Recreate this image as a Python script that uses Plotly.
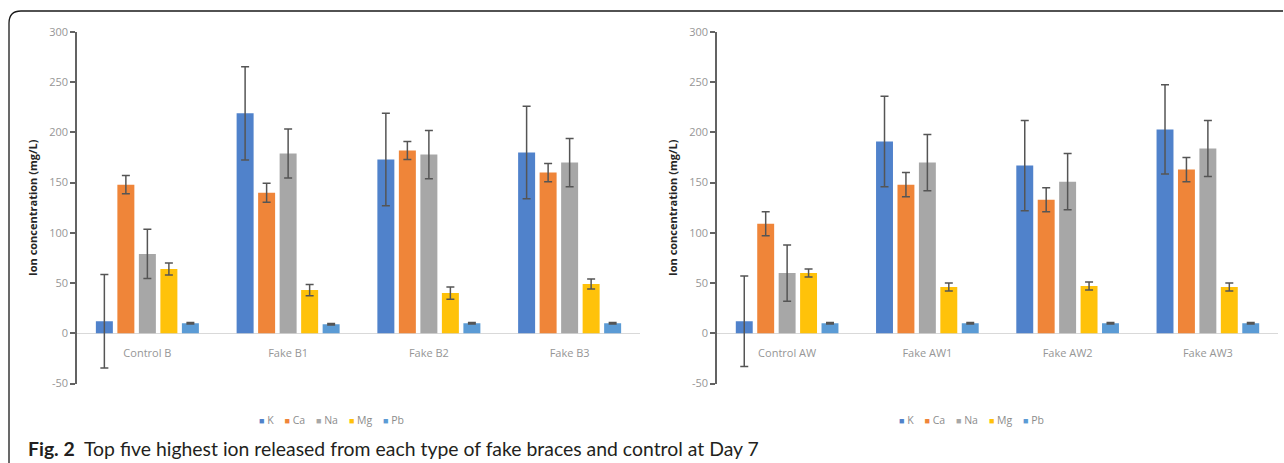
import plotly.graph_objects as go

W, H = 1284, 463

ions = ["K", "Ca", "Na", "Mg", "Pb"]
colors = ["#5082CB", "#EF8539", "#A7A7A7", "#FFC20A", "#5B9BD5"]

cats_B = ["Control B", "Fake B1", "Fake B2", "Fake B3"]
K_B = [12, 219, 173, 180]
Ca_B = [148, 140, 182, 160]
Na_B = [79, 179, 178, 170]
Mg_B = [64, 43, 40, 49]
Pb_B = [10, 9, 10, 10]
K_B_err = [46.5, 46.5, 46, 46]
Ca_B_err = [9, 9.5, 9, 9]
Na_B_err = [24.5, 24.5, 24, 24]
Mg_B_err = [6, 5.5, 6, 5]
Pb_B_err = [0.8, 0.8, 0.8, 0.8]

cats_AW = ["Control AW", "Fake AW1", "Fake AW2", "Fake AW3"]
K_AW = [12, 191, 167, 203]
Ca_AW = [109, 148, 133, 163]
Na_AW = [60, 170, 151, 184]
Mg_AW = [60, 46, 47, 46]
Pb_AW = [10, 10, 10, 10]
K_AW_err = [45, 45, 45, 44.5]
Ca_AW_err = [12, 12, 12, 12]
Na_AW_err = [28, 28, 28, 28]
Mg_AW_err = [4, 4, 4, 4]
Pb_AW_err = [0.8, 0.8, 0.8, 0.8]

y_tickvals = [-50, 0, 50, 100, 150, 200, 250, 300]
y_ticktext = ["-50", "0", "50", "100", "150", "200", "250", "300"]

vals_B = [K_B, Ca_B, Na_B, Mg_B, Pb_B]
errs_B = [K_B_err, Ca_B_err, Na_B_err, Mg_B_err, Pb_B_err]
vals_AW = [K_AW, Ca_AW, Na_AW, Mg_AW, Pb_AW]
errs_AW = [K_AW_err, Ca_AW_err, Na_AW_err, Mg_AW_err, Pb_AW_err]

y_title = "Ion concentration (mg/L)"
caption_bold = "Fig. 2"
caption = "Top five highest ion released from each type of fake braces and control at Day 7"

fig = go.Figure()
for cats, vals, errs, xa, ya in [(cats_B, vals_B, errs_B, "x", "y"),
                                 (cats_AW, vals_AW, errs_AW, "x2", "y2")]:
    for name, col, v, e in zip(ions, colors, vals, errs):
        fig.add_trace(go.Bar(
            x=cats, y=v, name=name, marker=dict(color=col, line=dict(width=0)),
            error_y=dict(type="data", array=e, color="#555555", thickness=1.5, width=4),
            xaxis=xa, yaxis=ya, showlegend=False))

tickfont = dict(family="Open Sans", size=11, color="#969696")
ydom = [1 - 383.5 / H, 1 - 32 / H]
zero_pos = 1 - 333.3 / H

def yax(anchor):
    return dict(domain=ydom, anchor=anchor, range=[-50, 300],
                tickmode="array", tickvals=y_tickvals, ticktext=y_ticktext,
                automargin=False,
                showgrid=False, zeroline=True, zerolinecolor="#d9d9d9", zerolinewidth=1,
                showline=True, linecolor="#636363", linewidth=1.6,
                ticks="outside", ticklen=5, tickwidth=1.6, tickcolor="#636363",
                tickfont=tickfont,
                title=dict(text=y_title, standoff=9,
                           font=dict(family="Open Sans", size=11, color="#262626", weight="bold")))

def xax(dom):
    return dict(domain=dom, anchor="free", position=zero_pos, showgrid=False,
                automargin=False,
                zeroline=False, showline=False, ticks="outside", ticklen=9,
                tickcolor="rgba(0,0,0,0)", tickfont=tickfont)

fig.update_layout(
    width=W, height=H, margin=dict(l=0, r=0, t=0, b=0, autoexpand=False),
    paper_bgcolor="white", plot_bgcolor="rgba(0,0,0,0)",
    barmode="group", bargap=0.236, bargroupgap=0.21,
    xaxis=xax([77 / W, 640 / W]), xaxis2=xax([717 / W, 1278 / W]),
    yaxis=yax("x"), yaxis2=yax("x2"),
)

def legend_text():
    parts = []
    for name, col in zip(ions, colors):
        parts.append(f"<span style='color:{col};font-size:9px'>\u25a0</span>\u00a0{name}")
    return "\u00a0\u00a0\u00a0\u00a0".join(parts)

for cx in [331, 971]:
    fig.add_annotation(x=cx / W, y=1 - 420 / H, xref="paper", yref="paper",
                       text=legend_text(), showarrow=False, xanchor="center", yanchor="middle",
                       font=dict(family="Open Sans", size=10.5, color="#8c8c8c"))

fig.add_annotation(x=26 / W, y=1 - 448 / H, xref="paper", yref="paper",
                   text=f"<b>{caption_bold}</b>\u00a0\u00a0{caption}", showarrow=False,
                   xanchor="left", yanchor="middle",
                   font=dict(family="Lato", size=19.4, color="#231f20"))

x0, r = 9 / W, 12
fig.add_shape(type="path", xref="paper", yref="paper",
              path=(f"M {x0},-0.05 L {x0},{1 - (11 + r) / H} "
                    f"Q {x0},{1 - 11 / H} {(9 + r) / W},{1 - 11 / H} "
                    f"L {1283 / W},{1 - 11 / H}"),
              line=dict(color="#1a1a1a", width=1.3))

fig.write_html("out.html", config={"displayModeBar": False},
               post_script="document.body.style.margin='0';document.body.style.overflow='hidden';")
